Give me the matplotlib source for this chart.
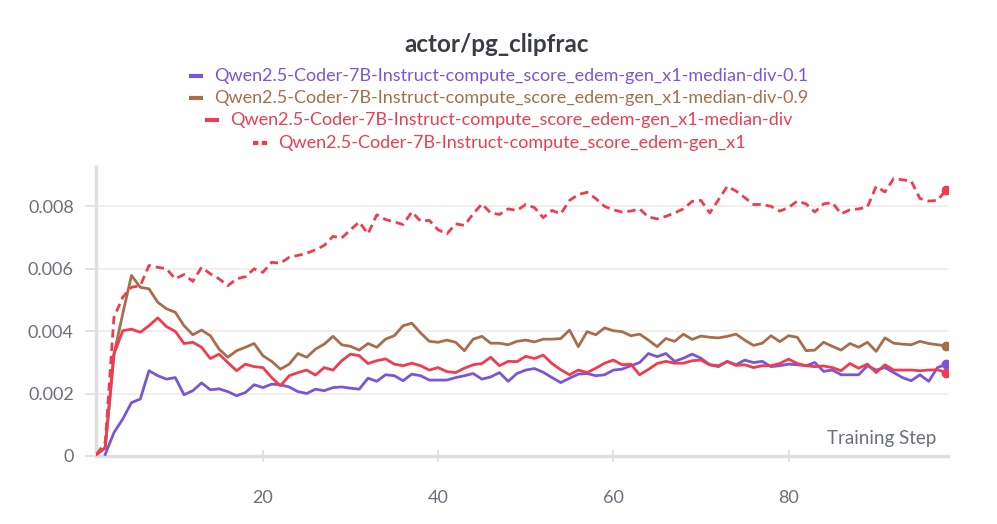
#!/usr/bin/env python3
"""
actor/pg_clipfrac curves (W&B style panel)
"""

import matplotlib
matplotlib.use('Agg')
import matplotlib.pyplot as plt
from matplotlib.lines import Line2D
import numpy as np

# smoothed values, unit = 1e-3
steps = list(range(1, 99))

div01 = [None, 0.05, 0.75, 1.18, 1.71, 1.82, 2.73, 2.57, 2.46, 2.51,
         1.96, 2.09, 2.34, 2.12, 2.15, 2.06, 1.93, 2.03, 2.28, 2.19,
         2.30, 2.28, 2.21, 2.06, 2.00, 2.14, 2.09, 2.19, 2.21, 2.17,
         2.14, 2.49, 2.39, 2.60, 2.57, 2.41, 2.62, 2.57, 2.43, 2.43,
         2.43, 2.51, 2.57, 2.64, 2.46, 2.53, 2.67, 2.39, 2.64, 2.75,
         2.80, 2.68, 2.51, 2.35, 2.49, 2.62, 2.64, 2.57, 2.60, 2.75,
         2.78, 2.89, 2.99, 3.28, 3.18, 3.28, 3.03, 3.13, 3.26, 3.13,
         2.92, 2.86, 3.03, 2.92, 3.07, 2.99, 3.03, 2.86, 2.89, 2.94,
         2.92, 2.89, 2.99, 2.71, 2.75, 2.60, 2.60, 2.60, 2.89, 2.75,
         2.83, 2.67, 2.51, 2.41, 2.60, 2.39, 2.83, 2.94]

div09 = [0.05, 0.25, 3.26, 4.55, 5.78, 5.40, 5.35, 4.92, 4.71, 4.60,
         4.17, 3.88, 4.03, 3.85, 3.42, 3.16, 3.37, 3.48, 3.60, 3.21,
         3.03, 2.78, 2.94, 3.28, 3.16, 3.42, 3.58, 3.83, 3.56, 3.51,
         3.39, 3.60, 3.48, 3.74, 3.85, 4.17, 4.25, 3.94, 3.67, 3.64,
         3.71, 3.64, 3.37, 3.74, 3.83, 3.61, 3.61, 3.56, 3.67, 3.71,
         3.65, 3.74, 3.74, 3.76, 4.03, 3.50, 3.98, 3.88, 4.10, 4.01,
         3.98, 3.85, 3.90, 3.71, 3.50, 3.76, 3.67, 3.90, 3.73, 3.84,
         3.80, 3.78, 3.83, 3.90, 3.71, 3.54, 3.61, 3.85, 3.66, 3.85,
         3.80, 3.37, 3.39, 3.64, 3.51, 3.39, 3.60, 3.48, 3.64, 3.35,
         3.78, 3.61, 3.58, 3.56, 3.67, 3.60, 3.56, 3.53]

median_div = [0.05, 0.27, 3.26, 4.01, 4.06, 3.96, 4.17, 4.42, 4.14, 3.99,
              3.60, 3.64, 3.48, 3.12, 3.26, 2.99, 2.73, 2.94, 2.86, 2.83,
              2.51, 2.25, 2.57, 2.67, 2.75, 2.59, 2.83, 2.75, 3.05, 3.26,
              3.21, 2.96, 3.05, 3.11, 2.94, 2.89, 2.97, 2.89, 2.75, 2.83,
              2.70, 2.67, 2.81, 2.92, 2.96, 3.16, 2.89, 3.03, 3.02, 3.19,
              3.12, 3.23, 2.96, 2.76, 2.60, 2.75, 2.67, 2.81, 2.97, 3.07,
              2.92, 2.94, 2.60, 2.77, 2.96, 3.03, 2.97, 2.97, 3.05, 3.07,
              2.92, 2.89, 3.02, 2.90, 2.92, 2.83, 2.89, 2.89, 2.96, 3.10,
              2.96, 2.89, 2.86, 2.88, 2.83, 2.73, 2.96, 2.81, 2.94, 2.67,
              2.92, 2.75, 2.75, 2.75, 2.73, 2.75, 2.76, 2.67]

gen_x1 = [0.05, 0.43, 4.44, 5.08, 5.40, 5.45, 6.10, 6.04, 5.99, 5.67,
          5.81, 5.59, 6.04, 5.83, 5.67, 5.45, 5.67, 5.74, 5.99, 5.88,
          6.20, 6.17, 6.36, 6.42, 6.49, 6.60, 6.74, 7.03, 6.98, 7.24,
          7.49, 7.11, 7.72, 7.57, 7.49, 7.41, 7.81, 7.52, 7.54, 7.24,
          7.11, 7.43, 7.38, 7.75, 8.07, 7.78, 7.73, 7.91, 7.86, 8.05,
          7.95, 7.63, 7.86, 7.75, 8.18, 8.37, 8.44, 8.24, 7.99, 7.88,
          7.81, 7.84, 7.91, 7.65, 7.59, 7.67, 7.78, 7.91, 8.15, 8.18,
          7.78, 8.20, 8.63, 8.48, 8.27, 8.05, 8.05, 7.99, 7.84, 7.95,
          8.16, 8.07, 7.81, 8.07, 8.11, 7.75, 7.88, 7.91, 7.97, 8.63,
          8.45, 8.88, 8.84, 8.80, 8.24, 8.16, 8.18, 8.52]

labels = [
    'Qwen2.5-Coder-7B-Instruct-compute_score_edem-gen_x1-median-div-0.1',
    'Qwen2.5-Coder-7B-Instruct-compute_score_edem-gen_x1-median-div-0.9',
    'Qwen2.5-Coder-7B-Instruct-compute_score_edem-gen_x1-median-div',
    'Qwen2.5-Coder-7B-Instruct-compute_score_edem-gen_x1',
]
colors = ['#7b55d8', '#a86d4c', '#ef3c4f', '#ef3c4f']
styles = ['-', '-', '-', '--']

FONT = 'Lato'
GRAY = '#6b6f7a'

fig = plt.figure(figsize=(9.97, 5.24), dpi=100)
ax = fig.add_axes([96 / 997, 1 - 456 / 524, 852 / 997, 289 / 524])

series = [div01, div09, median_div, gen_x1]
for vals, c, ls in zip(series, colors, styles):
    y = np.array([np.nan if v is None else v for v in vals]) * 1e-3
    x = np.array(steps)
    ax.plot(x, y, color=c, lw=2.0, ls=ls, dashes=(3, 1.8) if ls == '--' else (None, None),
            solid_joinstyle='round', zorder=3)
    ax.plot(x[-1], y[-1], 'o', color=c, ms=6, zorder=4)

ax.set_xlim(0.95, 98.2)
ax.set_ylim(0, 0.00925)
ax.set_yticks([0, 0.002, 0.004, 0.006, 0.008])
ax.set_yticklabels(['0', '0.002', '0.004', '0.006', '0.008'])
ax.set_xticks([20, 40, 60, 80])
ax.grid(axis='y', color='#ececee', lw=1.2, zorder=0)
for s in ['top', 'right']:
    ax.spines[s].set_visible(False)
for s in ['left', 'bottom']:
    ax.spines[s].set_color('#dedee3')
    ax.spines[s].set_linewidth(2.5)
ax.tick_params(axis='y', length=8, width=1.2, color='#dedee3', pad=8,
               labelsize=13, labelcolor=GRAY)
ax.tick_params(axis='x', length=9, width=1.2, color='#dedee3', pad=20,
               direction='inout', labelsize=13, labelcolor=GRAY)
for lbl in ax.get_xticklabels() + ax.get_yticklabels():
    lbl.set_fontfamily(FONT)

ax.text(0.986, 0.06, 'Training Step', transform=ax.transAxes, ha='right', va='center',
        fontsize=13.5, color=GRAY, family=FONT)

fig.text(497 / 997, 1 - 45 / 524, 'actor/pg_clipfrac', ha='center', va='center',
         fontsize=17.5, fontweight='bold', color='#3a3d45', family=FONT)

# legend rows, each centered
fig.canvas.draw()
renderer = fig.canvas.get_renderer()
row_y = [76, 98, 120, 143]
for lab, c, ls, ypx in zip(labels, colors, styles, row_y):
    t = fig.text(0, 1 - ypx / 524, lab, ha='left', va='center', fontsize=13,
                 color=c, family=FONT)
    w = t.get_window_extent(renderer).width
    total = 14 + 11 + w
    left = 499 - total / 2
    t.set_x((left + 25) / 997)
    fig.add_artist(Line2D([left / 997, (left + 14) / 997], [1 - ypx / 524] * 2,
                          transform=fig.transFigure, color=c, lw=3.0,
                          solid_capstyle='butt', dash_capstyle='butt',
                          ls=ls, dashes=(1.3, 0.8) if ls == '--' else (None, None)))

plt.savefig('out.png', dpi=100)
